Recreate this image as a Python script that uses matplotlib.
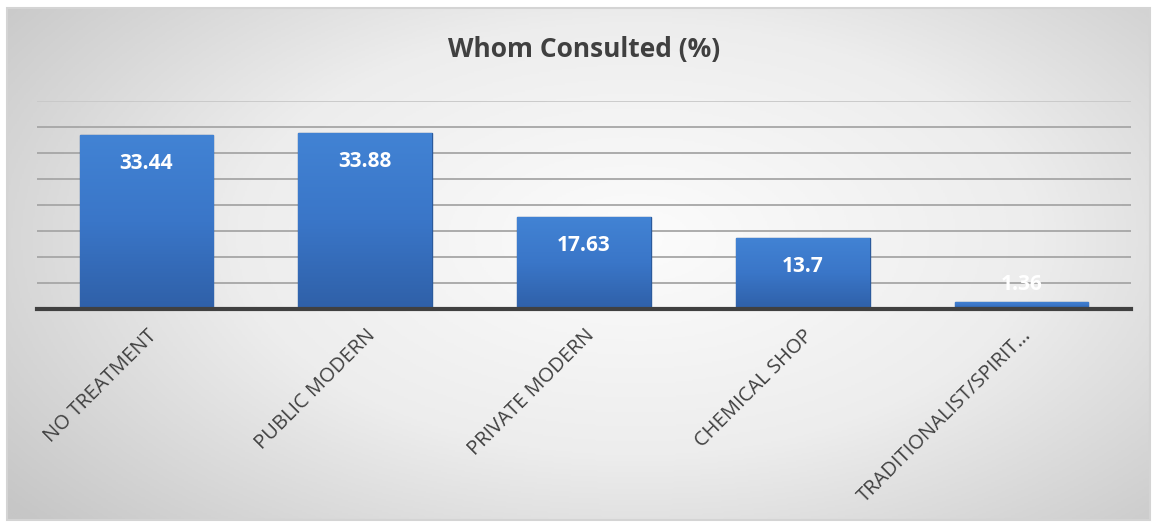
import numpy as np
import matplotlib.pyplot as plt
from matplotlib.colors import LinearSegmentedColormap
from matplotlib.patches import Rectangle

categories = ["NO TREATMENT", "PUBLIC MODERN", "PRIVATE MODERN", "CHEMICAL SHOP",
              "TRADITIONALIST/SPIRIT\u2026"]
values = [33.44, 33.88, 17.63, 13.7, 1.36]
labels = ["33.44", "33.88", "17.63", "13.7", "1.36"]
title = "Whom Consulted (%)"

plt.rcParams['font.family'] = ['Open Sans', 'DejaVu Sans']

fig = plt.figure(figsize=(11.53, 5.23), dpi=100)

# radial grey background inside the chart frame
bg = fig.add_axes([7 / 1153, 3 / 523, 1143 / 1153, 512 / 523], zorder=0)
yy, xx = np.mgrid[0:1:300j, 0:1:600j]
r = np.sqrt(((xx - 0.55) / 0.7) ** 2 + ((yy - 0.45) / 0.85) ** 2)
grey = LinearSegmentedColormap.from_list("g", ["#fcfcfc", "#ededed", "#c6c6c6"])
bg.imshow(np.clip(r, 0, 1), cmap=grey, aspect="auto", extent=[0, 1, 0, 1], vmin=0, vmax=1)
bg.set_xlim(0, 1)
bg.set_ylim(0, 1)
bg.axis("off")
bg.add_patch(Rectangle((0, 0), 1, 1, fill=False, edgecolor="#d4d4d4", lw=1.5,
                       transform=bg.transAxes, clip_on=False))

ax = fig.add_axes([37 / 1153, 1 - 309 / 523, 1094 / 1153, 208 / 523], zorder=1)
ax.patch.set_alpha(0)
x = np.arange(len(categories))
bars = ax.bar(x, values, width=0.61, color="#3a72c0", edgecolor="#2b5a9c",
              linewidth=1.0, zorder=3)

# vertical gradient clipped to each bar
blue = LinearSegmentedColormap.from_list("b", ["#2f60a8", "#3a76c8", "#4283d4"])
grad = np.linspace(0, 1, 256).reshape(-1, 1)
for b in bars:
    im = ax.imshow(grad, cmap=blue, aspect="auto", origin="lower",
                   extent=[b.get_x(), b.get_x() + b.get_width(), 0, b.get_height()],
                   zorder=3.5)
    im.set_clip_path(b)

ax.set_xlim(-0.5, len(categories) - 0.5)
ax.set_ylim(0, 40)
ax.set_yticks(np.arange(5, 41, 5))
ax.yaxis.grid(True, color="#a6a6a6", lw=1.3, zorder=0)
ax.get_ygridlines()[-1].set_color("#c8c8c8")
ax.tick_params(axis="y", left=False, labelleft=False)
ax.tick_params(axis="x", length=0, pad=12)
for s in ["top", "right", "left"]:
    ax.spines[s].set_visible(False)
ax.spines["bottom"].set_color("#404040")
ax.spines["bottom"].set_linewidth(3)
ax.spines["bottom"].set_zorder(5)

ax.set_xticks(x)
ax.set_xticklabels(categories, rotation=45, ha="right", rotation_mode="anchor",
                   fontsize=14.5, color="#404040")

for xi, v, lab in zip(x, values, labels):
    y = v - 5.5 if v > 5 else v + 3.4
    ax.text(xi, y, lab, ha="center", va="center", color="white",
            fontsize=15, fontweight="bold", zorder=6)

fig.text(584 / 1153, 1 - 50 / 523, title, ha="center", va="center",
         fontsize=19, fontweight="bold", color="#404040")

fig.savefig("out.png", dpi=100)
